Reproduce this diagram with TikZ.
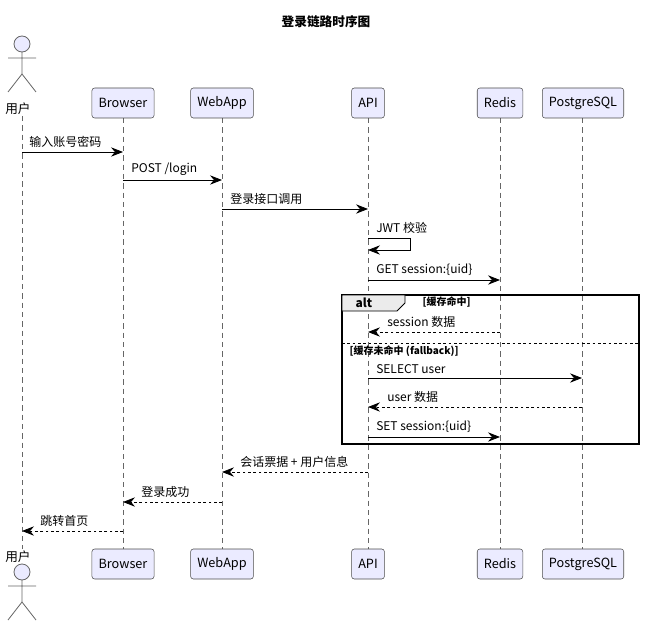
\documentclass[tikz,border=0pt]{standalone}
\usepackage{fontspec}
\setmainfont{Noto Sans CJK SC}
\usetikzlibrary{arrows.meta}
\begin{document}
\begin{tikzpicture}[x=0.75pt,y=-0.75pt,
 part/.style={draw=black!70,fill=blue!8!white,rounded corners=2pt,minimum height=22.5pt,inner xsep=5pt,font=\fontsize{9.5}{11}\selectfont},
 life/.style={draw=black!60,dash pattern=on 4pt off 3pt,line width=0.4pt},
 msg/.style={-{Stealth[length=9pt,width=7pt,inset=3pt]},line width=0.6pt},
 ret/.style={msg,dash pattern=on 2pt off 2pt},
 lbl/.style={font=\fontsize{9}{10}\selectfont,inner sep=0pt,anchor=south west},
 actor/.style={draw=black!60,line width=0.6pt}]
\useasboundingbox (0,0) rectangle (653,631);
\node[font=\bfseries\fontsize{9.5}{11}\selectfont] (title) at (326,22) {登录链路时序图};
% lifelines
\foreach \n/\x/\y in {u/22/116,b/123/118,w/222/118,a/368/118,r/500/118,p/582/118}{
  \coordinate (\n t) at (\x,\y); \coordinate (\n b) at (\x,549);
  \draw[life] (\n t) -- (\n b);}
% top participants
\foreach \n/\x/\t in {b/123/Browser,w/222/WebApp,a/368/API,r/500/Redis,p/583/PostgreSQL}{
  \node[part] (\n1) at (\x,103) {\t};
  \node[part] (\n2) at (\x,564) {\t};}
% actors
\newcommand{\myactor}[1]{%
  \draw[actor,fill=blue!8!white] (22,#1) circle (8);
  \draw[actor] (22,#1+8) -- (22,#1+30) (8,#1+14) -- (36,#1+14) (22,#1+30) -- (8,#1+48) (22,#1+30) -- (36,#1+48);}
\myactor{44}
\myactor{572}
\node[font=\fontsize{9.5}{11}\selectfont] (ulab1) at (18,109) {用户};
\node[font=\fontsize{9.5}{11}\selectfont] (ulab2) at (18,557) {用户};
% messages
\coordinate (m1s) at (22,152); \coordinate (m1e) at (123,152);
\draw[msg] (m1s) -- (m1e); \node[lbl] at (29,148) {输入账号密码};
\coordinate (m2s) at (123,180); \coordinate (m2e) at (222,180);
\draw[msg] (m2s) -- (m2e); \node[lbl] at (131,176) {POST  /login};
\coordinate (m3s) at (222,209); \coordinate (m3e) at (368,209);
\draw[msg] (m3s) -- (m3e); \node[lbl] at (230,205) {登录接口调用};
\coordinate (m4s) at (368,238); \coordinate (m4e) at (368,250);
\draw[msg] (m4s) -- (410,238) -- (410,250) -- (m4e); \node[lbl] at (376,234) {JWT 校验};
\coordinate (m5s) at (368,280); \coordinate (m5e) at (500,280);
\draw[msg] (m5s) -- (m5e); \node[lbl] at (376,276) {GET session:\{uid\}};
% alt frame
\draw[line width=1.1pt] (342,295) rectangle (639,444);
\draw[fill=black!8,line width=0.6pt] (342,295) -- (405,295) -- (405,303) -- (397,311) -- (342,311) -- cycle;
\node[font=\bfseries\fontsize{9}{10}\selectfont] (alt) at (364,303) {alt};
\node[font=\bfseries\fontsize{7.5}{9}\selectfont,anchor=west] (g1) at (418,302) {[缓存命中]};
\draw[dash pattern=on 2pt off 2pt,line width=0.5pt] (342,343) -- (639,343);
\node[font=\bfseries\fontsize{7.5}{9}\selectfont,anchor=west] (g2) at (345,351) {[缓存未命中 (fallback)]};
\coordinate (m6s) at (500,332); \coordinate (m6e) at (368,332);
\draw[ret] (m6s) -- (m6e); \node[lbl] at (387,328) {session 数据};
\coordinate (m7s) at (368,378); \coordinate (m7e) at (582,378);
\draw[msg] (m7s) -- (m7e); \node[lbl] at (376,374) {SELECT user};
\coordinate (m8s) at (582,407); \coordinate (m8e) at (368,407);
\draw[ret] (m8s) -- (m8e); \node[lbl] at (387,403) {user 数据};
\coordinate (m9s) at (368,437); \coordinate (m9e) at (500,437);
\draw[msg] (m9s) -- (m9e); \node[lbl] at (376,433) {SET session:\{uid\}};
\coordinate (m10s) at (368,472); \coordinate (m10e) at (222,472);
\draw[ret] (m10s) -- (m10e); \node[lbl] at (240,468) {会话票据 + 用户信息};
\coordinate (m11s) at (222,502); \coordinate (m11e) at (123,502);
\draw[ret] (m11s) -- (m11e); \node[lbl] at (141,498) {登录成功};
\coordinate (m12s) at (123,531); \coordinate (m12e) at (22,531);
\draw[ret] (m12s) -- (m12e); \node[lbl] at (40,527) {跳转首页};
\end{tikzpicture}
\end{document}
